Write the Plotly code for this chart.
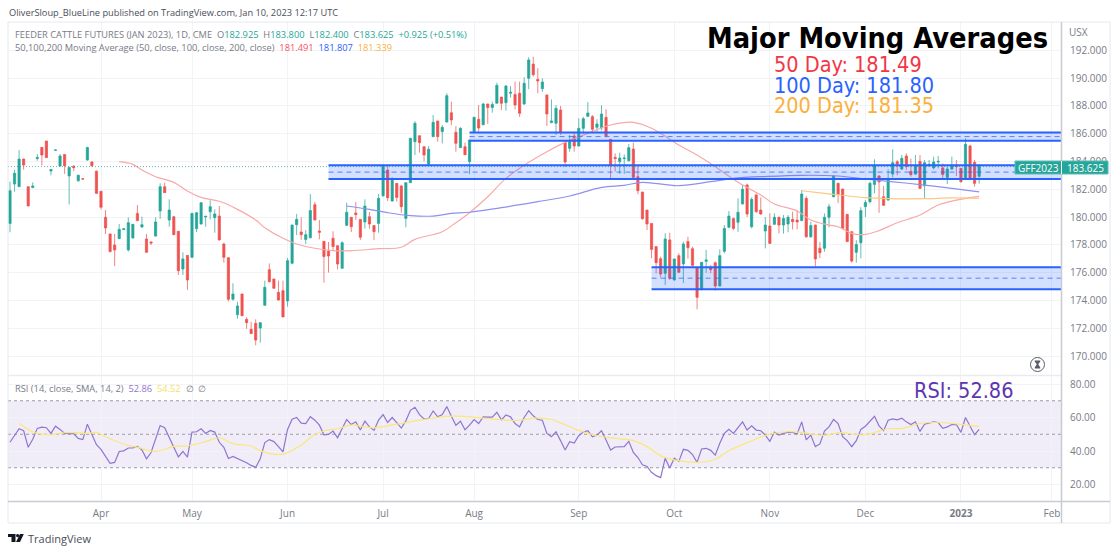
import plotly.graph_objects as go

W, H = 1120, 552

# ---------- price data ----------
open_ = [179.54,182.37,182.18,184.17,182.18,182.13,184.2,185.01,185.47,183.31,184.8,183.67,184.5,182.95,183.65,182.6,182.75,184.1,183.96,183.3,
181.85,179.98,178.78,177.99,178.44,179.1,177.63,178.49,180.26,179.28,178.42,178.2,178.63,180.43,182.18,179.78,180.02,178.97,176.26,177.24,
177.1,179.16,179.5,180.0,180.38,179.95,180.07,178.06,177.07,174.08,172.97,174.46,172.64,171.92,172.35,172.01,173.65,176.21,175.54,174.58,
174.7,173.96,176.67,179.45,178.92,178.39,178.51,180.89,178.99,178.25,177.55,178.47,177.94,176.31,179.4,179.98,180.29,179.83,179.64,180.02,
179.38,179.54,181.53,183.38,181.15,182.42,182.23,179.9,182.47,185.42,185.85,185.06,183.81,185.78,186.91,186.14,186.83,187.5,186.1,184.99,
185.06,183.98,186.14,187.03,186.64,188.13,187.87,188.18,188.63,188.22,188.9,188.82,188.9,188.13,189.98,191.0,189.9,189.23,188.78,186.79,
186.74,187.7,185.37,184.94,185.83,185.11,186.38,187.24,187.22,186.45,186.4,187.17,185.59,184.29,183.98,184.2,184.05,184.89,182.9,181.8,
180.5,179.54,177.87,177.0,175.95,178.35,175.47,177.22,176.62,178.23,177.72,176.35,174.8,176.81,176.33,176.71,175.04,177.53,179.26,179.9,
179.62,180.94,182.3,179.3,181.58,180.5,178.99,179.35,179.47,179.98,179.42,179.5,179.83,179.78,179.74,181.34,178.58,179.42,177.75,177.75,
179.98,181.46,182.42,182.01,180.19,178.94,177.46,178.15,180.74,181.1,182.33,182.95,181.46,181.22,183.09,183.98,183.45,184.39,183.29,183.09,
184.0,182.25,183.69,183.53,183.96,183.53,182.85,183.45,183.74,183.5,182.76,185.11,183.93,182.925]
high = [182.54,183.4,184.82,184.2,182.18,182.49,184.53,185.01,185.47,183.41,184.85,184.53,184.5,183.62,183.74,183.05,182.78,185.05,184.0,183.35,
181.88,180.5,178.8,178.78,179.5,179.2,179.98,179.5,180.86,180.02,178.78,178.25,179.98,182.42,182.46,181.27,180.05,179.0,177.46,177.25,
180.3,180.35,181.05,180.05,181.2,180.55,180.79,178.15,177.1,175.23,173.9,174.48,172.78,172.45,172.64,172.4,175.42,176.66,175.55,175.42,
175.42,177.05,179.45,180.22,179.98,179.06,181.65,181.08,179.78,178.25,178.2,178.97,177.95,178.25,181.03,180.0,181.08,179.85,181.27,180.36,
179.4,181.65,183.8,183.67,182.85,182.42,182.3,182.47,185.7,186.9,185.85,185.06,185.1,187.34,186.91,186.62,188.9,188.3,186.54,186.46,
185.35,185.55,187.2,188.06,188.22,188.15,188.3,189.66,188.63,189.5,189.42,189.74,189.74,190.06,191.5,191.53,190.7,189.98,188.8,188.46,
188.06,187.99,185.42,185.9,186.14,187.1,187.2,188.27,187.34,187.03,188.03,187.75,185.6,184.58,184.63,184.5,185.25,185.35,183.74,181.8,
180.5,179.55,177.87,177.15,178.83,178.87,177.0,177.39,178.23,178.58,177.87,176.42,176.75,177.63,176.55,176.8,177.67,179.42,180.43,179.95,
181.34,182.3,182.4,181.41,181.7,181.41,180.0,180.26,180.26,180.02,180.14,180.14,180.38,180.5,181.94,181.5,179.66,179.45,178.2,180.26,
180.94,183.02,182.47,182.05,180.2,178.97,178.34,180.7,181.22,182.54,184.15,183.02,182.23,183.43,184.87,184.1,184.46,184.58,184.2,184.46,
184.46,184.1,184.1,184.34,184.39,183.86,183.62,184.34,184.1,183.5,185.66,185.2,184.1,183.8]
low = [178.9,181.82,182.18,183.4,180.79,182.06,184.05,183.7,184.27,183.0,184.78,183.62,183.1,180.9,183.3,182.55,182.7,184.05,183.6,181.65,
180.55,178.78,177.45,176.47,178.44,179.05,177.51,178.45,179.7,179.23,177.44,177.99,178.59,179.86,181.75,179.3,178.7,175.83,175.83,174.75,
177.05,178.92,179.45,179.3,179.83,178.87,178.3,176.71,173.92,173.98,172.68,172.88,171.96,171.6,170.77,170.96,173.6,175.28,174.85,173.98,
172.8,173.55,176.6,178.7,178.35,178.06,178.46,179.78,178.39,175.28,176.0,177.63,176.23,176.29,179.35,178.92,179.78,178.35,179.16,179.16,
178.34,178.87,181.45,181.15,181.1,181.1,180.3,179.26,182.45,184.46,184.63,184.0,183.74,185.78,185.42,185.3,186.8,186.6,184.7,184.98,
184.46,183.08,186.1,186.14,186.6,186.7,187.5,188.18,187.7,187.65,188.6,187.75,187.2,188.06,189.2,190.1,188.9,189.0,186.55,186.75,
185.9,185.9,183.6,184.7,184.7,185.06,186.0,187.22,186.02,186.14,186.22,185.73,182.73,183.27,183.1,183.1,183.98,182.83,181.65,179.8,
179.06,177.03,175.95,175.66,175.11,175.47,175.42,175.95,175.25,177.0,176.42,173.36,174.7,175.99,175.95,174.7,175.0,177.39,179.2,179.06,
178.94,180.9,180.0,179.18,180.3,180.15,177.74,178.1,179.45,178.82,178.8,178.9,179.1,179.11,179.7,178.5,178.5,176.43,177.05,177.5,
179.26,181.41,181.0,179.1,178.2,176.71,176.71,177.03,180.0,180.98,181.7,180.3,180.79,181.17,182.85,183.0,183.38,183.38,182.9,183.02,
182.0,181.29,183.6,183.43,183.5,182.7,182.37,183.38,182.95,182.47,182.71,182.71,182.18,182.4]
close = [181.89,183.14,184.17,183.74,180.79,182.23,184.29,184.46,184.27,183.41,184.82,184.39,183.69,183.57,183.55,183.0,182.73,185.0,183.69,181.7,
180.7,179.21,177.51,177.63,179.11,179.15,179.59,179.47,179.74,179.45,177.46,178.13,179.64,182.18,181.75,180.5,178.73,176.14,176.98,175.47,
180.26,180.31,181.03,180.05,180.74,180.22,178.35,177.1,174.08,174.46,173.6,172.9,172.4,171.61,171.15,172.4,174.94,175.35,174.87,174.03,
172.81,176.86,179.42,179.83,178.73,178.73,180.46,179.78,178.9,177.15,177.19,177.87,176.62,178.15,180.34,179.3,180.17,178.54,180.79,179.5,
178.94,181.34,183.67,181.39,182.78,181.41,180.74,182.47,185.66,186.74,185.35,184.46,184.87,186.81,185.78,186.45,188.73,186.98,185.3,186.38,
184.48,185.54,187.17,186.4,188.13,187.87,188.1,189.47,188.18,189.42,188.97,188.06,187.46,189.62,191.3,190.24,189.78,189.71,187.41,186.91,
187.82,186.09,183.96,185.42,185.11,186.38,187.07,187.48,186.31,186.69,187.41,185.83,183.74,184.2,184.24,184.24,184.99,182.85,181.89,179.88,
179.5,177.67,176.71,175.9,178.42,175.59,176.98,176.02,178.06,177.79,176.52,174.22,176.74,176.91,176.21,175.04,177.22,179.18,180.07,179.18,
180.34,181.99,180.22,181.27,180.38,180.22,179.42,178.1,179.98,179.42,179.9,179.98,179.66,179.64,181.65,178.58,179.38,176.98,177.43,179.98,
180.74,182.95,181.63,179.18,178.23,176.83,178.03,180.46,181.05,182.42,183.74,182.52,180.84,182.76,183.91,183.81,184.22,183.62,183.05,183.72,
182.06,183.91,183.79,183.96,184.0,183.05,183.45,183.74,183.62,182.54,185.23,182.76,182.42,183.625]

# moving averages: bar index / value, read at the bends of each curve
ma50_bar = [24,27,29,32,36,39,42,46,50,54,56,60,63,67,71,75,81,86,89,95,98,101,105,109,114,118,122,127,132,137,141,147,151,155,160,165,168,173,176,180,182,185,188,191,195,200,204,208,213]
ma50_val = [183.98,183.79,183.38,182.9,182.49,181.87,181.41,181.13,180.55,179.78,179.23,178.47,178.06,177.75,177.58,177.58,177.72,177.82,178.39,178.94,179.59,180.31,181.46,182.78,183.93,184.7,185.37,186.02,186.62,186.81,186.38,185.18,184.46,183.62,182.5,181.58,180.94,180.43,179.78,179.42,179.3,178.82,178.75,179.02,179.59,180.14,180.86,181.22,181.49]
ma100_bar = [74,79,83,88,93,97,101,108,116,123,130,135,139,147,154,160,165,174,182,188,193,201,207,213]
ma100_val = [180.79,180.55,180.31,180.1,180.07,180.26,180.34,180.67,181.1,181.51,182.13,182.28,182.49,182.25,182.54,182.82,182.9,183.0,182.95,182.73,182.57,182.3,182.06,181.807]
ma200_bar = [174,179,182,188,193,201,207,213]
ma200_val = [181.89,181.7,181.6,181.39,181.32,181.32,181.37,181.339]

# support / resistance zones: start bar, top, bottom
zone_start = [70, 101, 141]
zone_top = [183.72, 186.08, 176.39]
zone_bottom = [182.74, 185.49, 174.81]

# RSI
rsi = [45.2,49.5,53.3,52.1,42.2,47.0,53.5,54.2,53.9,50.5,54.8,52.9,50.5,50.3,50.3,47.5,46.8,56.0,49.5,43.8,41.0,36.7,32.6,33.2,39.7,40.1,41.8,41.8,42.8,40.6,
35.3,39.1,46.6,55.2,53.9,48.5,42.2,36.5,39.7,36.3,51.3,51.5,53.3,50.5,52.3,51.3,45.2,42.2,35.5,36.7,35.5,34.2,33.0,31.4,30.2,35.3,45.0,46.8,45.6,42.6,
39.5,52.9,59.0,60.0,56.6,56.4,60.5,58.4,55.4,49.7,49.9,51.9,47.9,53.5,58.8,55.8,57.4,52.5,57.8,54.4,52.3,58.4,61.7,57.0,60.0,57.0,53.7,58.0,64.3,66.1,
61.7,59.2,59.4,63.9,60.4,61.7,66.5,60.7,55.4,57.8,52.7,55.4,58.8,56.4,60.4,60.2,60.2,63.1,58.6,61.5,60.4,56.4,54.4,60.0,64.1,61.0,58.8,58.4,50.5,48.5,51.5,
46.2,40.6,45.6,44.8,49.1,51.3,52.1,48.5,49.5,52.1,46.6,40.6,42.4,42.4,42.6,45.8,39.1,36.1,31.8,30.8,27.3,25.3,24.1,35.7,29.8,35.7,33.8,41.0,40.4,37.9,
33.2,41.2,41.6,40.4,37.5,44.6,50.5,52.9,50.5,54.0,57.4,52.5,55.0,52.5,52.1,49.5,45.8,51.3,49.5,50.5,51.3,51.1,50.1,57.4,46.6,49.5,42.6,44.2,51.9,54.4,
58.8,56.4,48.5,46.2,42.6,46.2,52.9,54.8,58.0,60.7,55.0,52.1,58.4,59.2,58.6,59.6,57.4,55.8,57.4,51.7,56.0,56.8,57.4,57.0,53.5,54.4,55.8,55.8,51.1,60.0,54.4,49.7,52.86]
rsi_sma_bar = [2,4,6,9,12,14,17,19,21,25,28,32,36,39,43,46,49,53,55,60,64,67,69,72,75,80,85,90,96,100,104,111,116,119,121,125,129,133,137,140,143,147,151,155,158,162,167,171,174,179,182,188,193,196,200,203,208,213]
rsi_sma_val = [56.4,52.9,50.5,49.7,50.9,51.1,50.5,51.1,48.5,44.2,42.2,39.7,42.8,43.0,45.6,47.9,44.4,43.0,40.1,38.1,43.6,49.9,52.1,53.3,55.4,54.0,56.0,58.4,60.7,60.7,59.6,58.2,59.8,58.8,56.8,52.3,49.1,47.5,46.2,42.6,37.1,34.2,33.2,35.1,40.1,45.0,50.1,51.5,51.1,49.3,50.9,49.7,53.3,53.5,56.4,57.0,56.2,54.52]

# axis ticks
month_bars = [20,40,61,82,102,125,146,167,188,209,229]
month_labels = ["Apr","May","Jun","Jul","Aug","Sep","Oct","Nov","Dec","<b>2023</b>","Feb"]
price_ticks = [170,172,174,176,178,180,182,184,186,188,190,192]
rsi_ticks = [20,40,60,80]
last_price = 183.625

# ---------- style ----------
GREEN, RED = "#26a69a", "#ef5350"
GRID = "#f2f3f7"
TXT = "#787b86"
FONT = "DejaVu Sans Condensed"
UI = "Open Sans"
LEFT, RIGHT = 8, 1061
MAIN_TOP, MAIN_BOT = 22, 375
RSI_TOP, RSI_BOT = 376, 501.5
def px(x): return x / W
def py(y): return 1 - y / H

bars = list(range(len(close)))
fig = go.Figure()
fig.add_trace(go.Candlestick(x=bars, open=open_, high=high, low=low, close=close, xaxis="x", yaxis="y",
    increasing=dict(line=dict(color="rgba(38,166,154,0.72)", width=1), fillcolor=GREEN),
    decreasing=dict(line=dict(color="rgba(239,83,80,0.72)", width=1), fillcolor=RED),
    whiskerwidth=0, hoverinfo="skip", showlegend=False))
fig.add_trace(go.Scatter(x=ma50_bar, y=ma50_val, mode="lines", line=dict(color="#f8a9a8", width=1.2, shape="spline"), hoverinfo="skip", showlegend=False))
fig.add_trace(go.Scatter(x=ma100_bar, y=ma100_val, mode="lines", line=dict(color="#8f8ff0", width=1.2, shape="spline"), hoverinfo="skip", showlegend=False))
fig.add_trace(go.Scatter(x=ma200_bar, y=ma200_val, mode="lines", line=dict(color="#fbc97f", width=1.2, shape="spline"), hoverinfo="skip", showlegend=False))
fig.add_trace(go.Scatter(x=bars, y=rsi, mode="lines", xaxis="x2", yaxis="y2", line=dict(color="#8e76cf", width=1.2), hoverinfo="skip", showlegend=False))
fig.add_trace(go.Scatter(x=rsi_sma_bar, y=rsi_sma_val, mode="lines", xaxis="x2", yaxis="y2", line=dict(color="#fbe67a", width=1.2, shape="spline"), hoverinfo="skip", showlegend=False))

x_end = (RIGHT - 10) / 4.55
x_start = (LEFT - 10) / 4.55
y_top = 170 + (356 - MAIN_TOP) / 13.9
y_bot = 170 + (356 - MAIN_BOT) / 13.9
rsi_top = 80 + (384 - RSI_TOP) / 1.675
rsi_bot = 80 - (RSI_BOT - 384) / 1.675

shapes = []
# RSI band
shapes.append(dict(type="rect", xref="x2", yref="y2", x0=x_start, x1=x_end, y0=30, y1=70, fillcolor="rgba(126,87,194,0.11)", line_width=0, layer="below"))
for lvl in [70, 50, 30]:
    shapes.append(dict(type="line", xref="x2", yref="y2", x0=x_start, x1=x_end, y0=lvl, y1=lvl, line=dict(color="#9a9ca6", width=1, dash="3px,3px"), layer="below"))
# last price line
shapes.append(dict(type="line", xref="x", yref="y", x0=x_start, x1=x_end, y0=last_price, y1=last_price, line=dict(color="rgba(38,166,154,0.75)", width=1, dash="1px,2px")))
# zones
for s, t, b in zip(zone_start, zone_top, zone_bottom):
    shapes.append(dict(type="rect", xref="x", yref="y", x0=s, x1=x_end, y0=b, y1=t, fillcolor="rgba(41,98,255,0.2)", line_width=0))
    for lvl in (t, b):
        shapes.append(dict(type="line", xref="x", yref="y", x0=s, x1=x_end, y0=lvl, y1=lvl, line=dict(color="#2962ff", width=2)))
    shapes.append(dict(type="line", xref="x", yref="y", x0=s, x1=x_end, y0=(t+b)/2, y1=(t+b)/2, line=dict(color="rgba(41,98,255,0.75)", width=1, dash="5px,4px")))
# frame
FR = "#e6e8ee"
def paper_line(x0, y0, x1, y1, color=FR, width=1):
    shapes.append(dict(type="line", xref="paper", yref="paper", x0=px(x0), x1=px(x1), y0=py(y0), y1=py(y1), line=dict(color=color, width=width)))
paper_line(8, 22, 1110, 22)
paper_line(8, 22, 8, 523)
paper_line(1110, 22, 1110, 523)
paper_line(8, 523, 1110, 523)
paper_line(8, 375.5, 1061, 375.5, "#e9ebf0", 1.5)
paper_line(8, 501.5, 1110, 501.5, "#c9cbd3", 1.5)
paper_line(1061.5, 22, 1061.5, 523, "#c9cbd3", 1.5)
def circle(cx, cy, r, **kw):
    return dict(type="circle", xref="paper", yref="paper", x0=px(cx-r), x1=px(cx+r), y0=py(cy+r), y1=py(cy-r), **kw)
def poly(pts, color="#131722"):
    path = "M " + " L ".join(f"{px(a):.5f},{py(b):.5f}" for a, b in pts) + " Z"
    return dict(type="path", xref="paper", yref="paper", path=path, fillcolor=color, line_width=0)
# hourglass badge on the pane
shapes.append(circle(1037.5, 364.5, 7, line=dict(color="#5a5d66", width=1), fillcolor="white"))
shapes.append(poly([(1034.7,360.5),(1040.3,360.5),(1040.3,361.5),(1038.2,364.3),(1040.3,367.5),(1040.3,368.5),(1034.7,368.5),(1034.7,367.5),(1036.8,364.3),(1034.7,361.5)], "#5a5d66"))
# price tag behind the two tag labels
shapes.append(dict(type="rect", xref="paper", yref="paper", x0=px(1015), x1=px(1108), y0=py(174), y1=py(161), fillcolor=GREEN, line=dict(color="#5cbdb3", width=1)))
paper_line(1061.5, 161, 1061.5, 174, "#ffffff", 1)
# TV logo
shapes.append(poly([(8,534),(15.5,534),(15.5,542),(11.5,542),(11.5,537),(8,537)]))
shapes.append(circle(17.6, 535.6, 1.6, fillcolor="#131722", line_width=0))
shapes.append(poly([(20,534),(23.8,534),(20,542),(16,542)]))

def note(text, x, y, size, color, family=UI, anchor="left", **kw):
    return dict(text=text, xref="paper", yref="paper", x=px(x), y=py(y), xanchor=anchor, yanchor="middle",
                showarrow=False, font=dict(family=family, size=size, color=color), **kw)

TEAL = "#26a69a"
annotations = [
    note("OliverSloup_BlueLine published on TradingView.com, Jan 10, 2023 12:17 UTC", 6.5, 13, 9.25, "#4a4e59"),
    note(f"FEEDER CATTLE FUTURES (JAN 2023), 1D, CME&nbsp;&nbsp;O<span style='color:{TEAL}'>182.925</span>&nbsp;&nbsp;H<span style='color:{TEAL}'>183.800</span>&nbsp;&nbsp;L<span style='color:{TEAL}'>182.400</span>&nbsp;&nbsp;C<span style='color:{TEAL}'>183.625</span>&nbsp;&nbsp;<span style='color:{TEAL}'>+0.925 (+0.51%)</span>", 13, 34, 9.3, TXT),
    note("50,100,200 Moving Average (50, close, 100, close, 200, close)&nbsp;&nbsp;<span style='color:#f7525f'>181.491</span>&nbsp;&nbsp;<span style='color:#2962ff'>181.807</span>&nbsp;&nbsp;<span style='color:#fbb03b'>181.339</span>", 13, 47, 9.3, TXT),
    note("RSI (14, close, SMA, 14, 2)&nbsp;&nbsp;<span style='color:#8e76cf'>52.86</span>&nbsp;&nbsp;<span style='color:#f5e15f'>54.52</span>&nbsp;&nbsp;∅&nbsp;&nbsp;∅", 13, 388, 9.3, TXT),
    note("<b>Major Moving Averages</b>", 877, 38, 28.7, "#000000", FONT, "center"),
    note("50 Day: 181.49", 772, 65, 21.5, "#f23645", FONT),
    note("100 Day: 181.80", 772, 85.5, 21.5, "#2962ff", FONT),
    note("200 Day: 181.35", 772, 105.5, 21.5, "#fbb03b", FONT),
    note("RSI: 52.86", 912, 390, 21.5, "#5e35b1", FONT),
    note("USX", 1067, 32, 10, TXT),
    note("TradingView", 25.5, 538, 11, "#4a4e59"),
    note("GFF2023", 1038, 167.5, 10, "#ffffff", UI, "center"),
    note("183.625", 1085, 167.5, 10, "#ffffff", UI, "center"),
]

axis_common = dict(showline=False, zeroline=False, gridcolor=GRID, gridwidth=1)
fig.update_layout(
    width=W, height=H, margin=dict(l=0, r=0, t=0, b=0), paper_bgcolor="white", plot_bgcolor="white",
    showlegend=False, hovermode=False, shapes=shapes, annotations=annotations,
    font=dict(family=UI, size=10, color=TXT),
    xaxis=dict(domain=[px(LEFT), px(RIGHT)], range=[x_start, x_end], anchor="y", tickmode="array", tickvals=month_bars,
               showticklabels=False, ticks="", rangeslider=dict(visible=False), **axis_common),
    yaxis=dict(domain=[py(MAIN_BOT), py(MAIN_TOP)], range=[y_bot, y_top], anchor="x", side="right", tickmode="array",
               tickvals=price_ticks, tickformat=".3f", tickfont=dict(size=10, color=TXT), ticklabelstandoff=8, ticks="", **axis_common),
    xaxis2=dict(domain=[px(LEFT), px(RIGHT)], range=[x_start, x_end], anchor="y2", tickmode="array", tickvals=month_bars,
                ticktext=month_labels, tickfont=dict(size=10, color=TXT), ticklabelstandoff=4, ticks="", **axis_common),
    yaxis2=dict(domain=[py(RSI_BOT), py(RSI_TOP)], range=[rsi_bot, rsi_top], anchor="x2", side="right", tickmode="array",
                tickvals=rsi_ticks, tickformat=".2f", tickfont=dict(size=10, color=TXT), ticklabelstandoff=8, ticks="", **axis_common),
)

fig.write_html("out.html", config={"displayModeBar": False}, post_script="document.body.style.margin='0';document.body.style.overflow='hidden';")
